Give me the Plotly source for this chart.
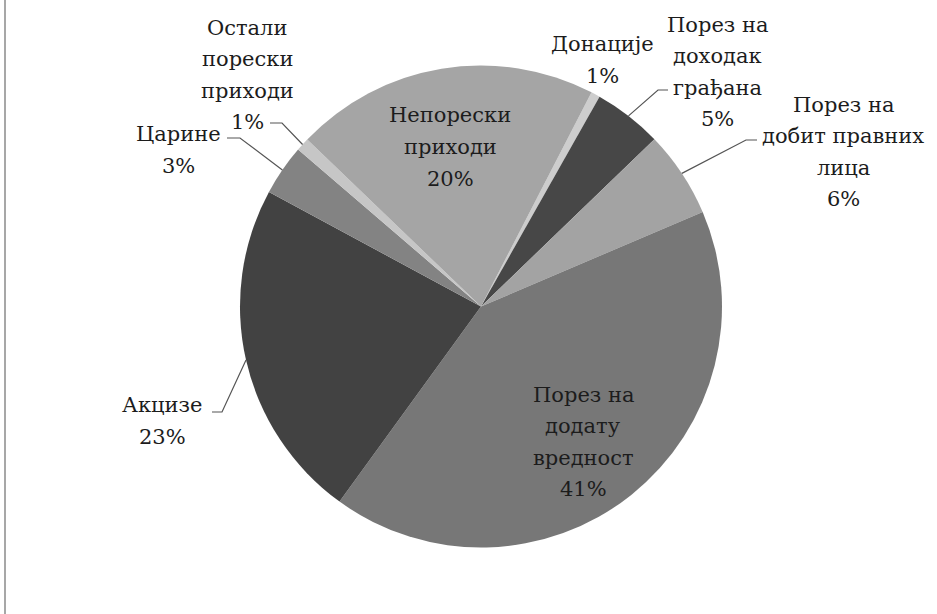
import math
import plotly.graph_objects as go

# ---- data ----
labels = [
    "Донације",
    "Порез на доходак грађана",
    "Порез на добит правних лица",
    "Порез на додату вредност",
    "Акцизе",
    "Царине",
    "Остали порески приходи",
    "Непорески приходи",
]
values = [0.6, 4.6, 5.8, 41.4, 22.9, 3.4, 0.9, 20.4]
label_lines = [
    ["Донације"],
    ["Порез на", "доходак", "грађана"],
    ["Порез на", "добит правних", "лица"],
    ["Порез на", "додату", "вредност"],
    ["Акцизе"],
    ["Царине"],
    ["Остали", "порески", "приходи"],
    ["Непорески", "приходи"],
]

# ---- style / layout ----
W, H = 937, 614
CX, CY, R = 481, 306.5, 241
ROTATION = 27.3
colors = ["#cdcdcd", "#474747", "#a3a3a3", "#777777",
          "#424242", "#838383", "#c6c6c6", "#a5a5a5"]
FONT = "DejaVu Serif"
FS = 21
LS = 31.5  # line spacing in px
TXT_DY = 3  # visual baseline correction
TXT = "#1c1c1c"

# label block centres (pixels), in slice order
label_pos = [(602, 57), (717, 69), (843, 149), (583, 439),
             (162, 418), (178, 147), (247, 72), (450, 144)]
# elbow point and horizontal end of leader (None = no leader)
leaders = [None, ((658, 90), (668, 90)), ((746, 140), (757, 140)), None,
           ((222, 412), (212, 412)), ((240, 138), (227, 138)),
           ((282, 123), (270, 123)), None]


def px(x):
    return x / W


def py(y):
    return 1 - y / H


total = sum(values)
fig = go.Figure(go.Pie(
    labels=labels, values=values, sort=False, direction="clockwise",
    rotation=ROTATION, textinfo="none", hoverinfo="label+percent",
    marker=dict(colors=colors, line=dict(width=0)),
    showlegend=False,
    domain=dict(x=[px(CX - R), px(CX + R)], y=[py(CY + R), py(CY - R)]),
))

annotations = []
shapes = []
cum = 0.0
for i, v in enumerate(values):
    start = ROTATION + cum / total * 360
    cum += v
    end = ROTATION + cum / total * 360
    mid = math.radians((start + end) / 2)
    pct = round(v / total * 100)
    lines = label_lines[i] + [f"{pct}%"]
    lx, ly = label_pos[i]
    n = len(lines)
    for k, line in enumerate(lines):
        yy = ly + TXT_DY + (k - (n - 1) / 2) * LS
        annotations.append(dict(
            x=px(lx), y=py(yy), xref="paper", yref="paper", text=line,
            showarrow=False, xanchor="center", yanchor="middle",
            align="center", font=dict(family=FONT, size=FS, color=TXT)))
    if leaders[i] is not None:
        ex = CX + R * math.sin(mid)
        ey = CY - R * math.cos(mid)
        (bx, by), (hx, hy) = leaders[i]
        path = (f"M {px(ex)} {py(ey)} L {px(bx)} {py(by)} "
                f"L {px(hx)} {py(hy)}")
        shapes.append(dict(type="path", xref="paper", yref="paper",
                           path=path, line=dict(color="#555555", width=1.2)))

# frame (left edge of the chart box)
shapes.append(dict(type="line", xref="paper", yref="paper",
                   x0=px(5), x1=px(5), y0=0, y1=1,
                   line=dict(color="#8a8a8a", width=1.5)))

fig.update_layout(
    width=W, height=H, margin=dict(l=0, r=0, t=0, b=0),
    paper_bgcolor="white", plot_bgcolor="white",
    font=dict(family=FONT),
    annotations=annotations, shapes=shapes,
)
fig.write_html("out.html", config={"displayModeBar": False},
               post_script="document.body.style.margin='0';")
